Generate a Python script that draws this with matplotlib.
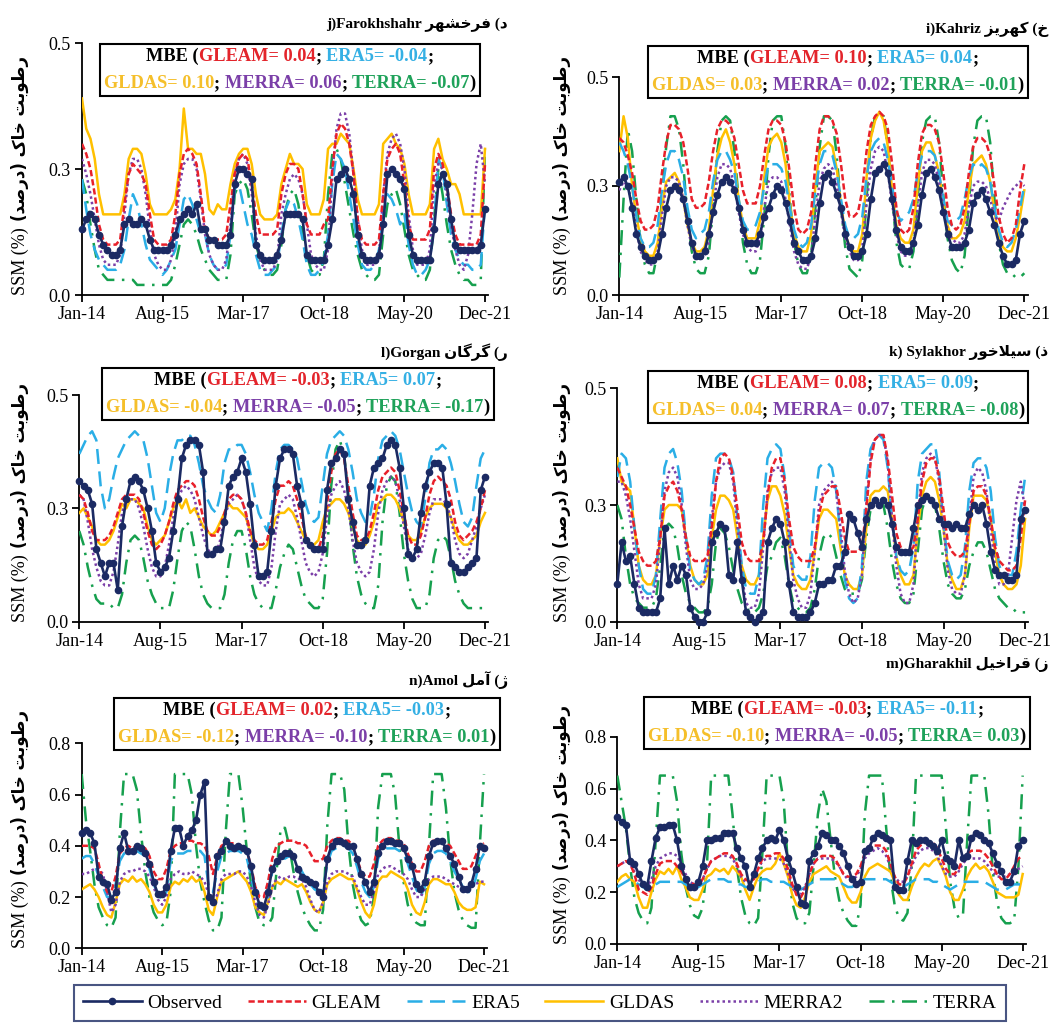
import numpy as np
import matplotlib
matplotlib.use("Agg")
import matplotlib.pyplot as plt
from matplotlib.lines import Line2D
from matplotlib.offsetbox import TextArea, HPacker, VPacker, AnnotationBbox

plt.rcParams['font.family'] = ['Liberation Serif', 'DejaVu Sans']

W, H = 1059, 1027

months = np.arange(96)  # Jan-2014 .. Dec-2021
xtick_pos = [0, 19, 38, 57, 76, 95]
xtick_labels = ['Jan-14', 'Aug-15', 'Mar-17', 'Oct-18', 'May-20', 'Dec-21']

# ---- data: surface soil moisture, hundredths, one value per month ----
# j) Farokhshahr
farokh_obs = [13,15,16,15,12,10,9,8,8,9,14,15, 14,14,15,14,11,9,9,9,9,10,12,15,
              16,17,16,18,13,13,11,11,10,10,10,12, 22,25,25,24,23,10,8,7,7,7,8,11,
              16,16,16,16,15,8,7,7,7,7,10,15, 23,24,25,23,20,12,8,7,7,7,8,14,
              24,25,24,23,21,12,8,7,7,7,7,13, 22,24,22,15,10,9,9,9,9,9,10,17]
farokh_gleam = [30,28,25,20,14,11,10,10,10,11,18,24, 26,25,24,22,16,11,10,10,10,11,16,24,
                28,29,28,26,20,13,11,11,11,11,12,18, 24,27,28,27,22,16,12,12,12,12,13,20,
                24,26,26,25,20,14,12,12,12,14,15,25, 32,34,33,30,24,15,11,10,10,10,11,20,
                27,29,30,28,22,14,11,11,11,11,13,25, 28,26,22,16,12,10,10,10,10,10,12,26]
farokh_era5 = [23,17,12,9,7,6,5,5,5,6,9,15, 20,18,14,10,7,6,5,4,5,7,9,14,
               19,20,18,15,12,12,8,6,5,5,6,12, 21,22,18,14,12,8,5,4,4,5,6,12,
               17,19,18,15,11,6,4,4,5,7,12,22, 28,27,25,20,15,10,6,5,5,6,9,16,
               20,19,17,14,16,10,6,4,4,5,7,14, 27,25,18,12,9,7,6,6,5,5,6,18]
farokh_gldas = [39,33,31,27,20,16,16,16,16,16,20,27, 29,29,28,24,18,16,16,16,16,17,19,25,
                37,29,29,28,28,24,17,16,18,17,17,22, 26,28,29,29,26,20,16,15,15,15,16,22,
                25,28,26,26,25,18,16,16,16,19,29,30, 30,32,31,30,25,19,16,16,16,16,18,30,
                31,32,30,29,26,20,16,16,16,16,18,29, 31,27,25,22,22,20,16,16,16,16,16,29]
farokh_merra = [27,24,20,15,10,7,6,6,6,8,16,24, 27,27,25,20,13,8,6,5,5,7,12,22,
                26,27,27,25,19,12,8,6,5,5,7,14, 24,27,28,26,20,12,7,5,5,5,7,16,
                20,23,24,23,20,14,8,6,5,5,9,24, 33,36,36,32,24,15,9,6,6,6,8,20,
                28,31,32,30,25,16,9,6,6,6,9,22, 26,25,20,14,9,6,5,8,16,26,30,22]
farokh_terra = [23,20,14,9,5,4,3,3,3,3,3,3, 3,2,2,2,2,2,2,2,2,3,6,10,
                14,15,14,12,9,7,5,4,3,3,3,8, 20,22,23,21,16,10,7,5,4,4,5,10,
                17,20,21,18,12,8,5,4,4,7,20,28, 29,27,22,17,12,8,5,4,3,3,4,12,
                18,20,21,18,13,8,5,4,3,3,5,15, 25,20,14,9,6,4,3,3,2,2,3,29]

# i) Kahriz
kahriz_obs = [26,27,25,20,14,11,9,8,8,9,14,20, 24,25,24,22,17,12,9,9,10,14,19,23,
              26,27,26,24,20,15,12,12,12,14,18,20, 23,25,24,21,17,12,10,8,8,9,13,21,
              27,28,26,23,20,14,11,9,9,10,14,22, 28,29,30,28,22,15,11,10,10,12,16,23,
              28,29,27,24,19,14,11,11,11,12,15,21, 23,24,22,19,16,12,9,7,7,8,14,17]
kahriz_gleam = [36,35,32,28,22,17,15,15,16,20,28,35, 39,39,38,35,29,22,20,20,21,26,33,38,
                40,40,39,36,30,24,21,21,21,25,32,38, 40,40,39,35,28,20,15,14,15,19,30,38,
                41,41,40,37,30,22,18,18,19,24,33,39, 41,42,41,38,30,20,15,14,15,20,30,37,
                39,39,38,35,28,20,16,15,16,20,28,34, 36,36,35,32,25,18,14,12,13,16,24,30]
kahriz_era5 = [35,33,30,25,18,13,11,11,12,16,24,30, 33,33,31,27,20,15,13,14,15,19,26,31,
               33,33,31,28,22,17,15,15,16,19,25,30, 30,30,29,26,20,15,12,11,12,16,24,30,
               33,33,32,28,22,16,13,13,14,18,27,33, 35,36,35,31,25,19,17,18,19,22,28,32,
               33,33,32,28,22,17,16,17,18,22,27,30, 29,30,29,26,20,15,12,11,12,15,20,25]
kahriz_gldas = [33,41,36,25,18,13,10,9,9,12,20,26, 27,28,26,22,16,12,10,10,11,15,24,32,
                36,38,35,30,22,16,13,13,13,17,27,34, 36,37,35,30,21,14,11,10,10,14,25,33,
                34,35,34,29,21,14,11,10,10,14,27,36, 40,42,40,34,24,16,13,12,12,15,25,33,
                35,35,32,28,21,16,13,13,14,17,24,30, 31,32,30,26,19,14,11,10,10,13,18,24]
kahriz_merra = [24,26,25,21,15,10,8,7,7,10,18,25, 27,27,26,22,16,11,9,8,9,12,20,27,
                30,30,29,25,19,14,11,10,10,13,20,26, 27,27,26,22,16,10,7,6,6,9,18,26,
                29,30,29,25,19,13,10,8,8,11,21,29, 33,34,33,28,21,14,10,9,9,12,20,28,
                31,31,30,26,20,15,13,12,12,14,20,25, 26,26,25,22,18,17,20,22,24,25,26,25]
kahriz_terra = [4,22,38,33,22,12,7,5,5,10,22,34, 41,41,38,30,18,10,6,5,5,9,20,33,
                40,41,40,33,22,12,7,5,5,8,18,32, 40,41,41,34,22,12,7,5,5,9,20,34,
                41,41,40,32,20,11,6,5,4,8,22,36, 41,41,41,34,22,12,7,6,6,10,22,35,
                40,41,41,35,23,13,8,6,5,9,21,34, 40,41,41,35,22,12,7,5,5,4,4,5]

# l) Gorgan
gorgan_obs = [31,30,29,26,16,13,10,13,13,7,21,27, 31,32,31,29,25,20,13,11,12,14,20,27,
              36,39,40,40,39,33,15,15,16,16,22,30, 32,33,36,33,26,17,10,10,11,20,30,36,
              38,38,37,30,26,18,17,16,16,16,29,35, 36,38,37,27,22,17,17,18,30,34,35,36,
              39,40,39,34,25,15,14,16,24,30,33,35, 35,34,26,13,12,11,11,12,13,14,29,32]
gorgan_gleam = [28,27,24,20,18,18,18,19,21,24,27,28, 28,28,27,24,20,17,16,17,19,22,26,29,
                30,31,31,30,27,23,20,19,19,21,24,27, 28,28,27,24,20,18,17,17,18,22,27,30,
                30,31,30,27,23,19,17,16,16,19,26,33, 37,38,36,30,24,19,18,18,20,24,29,32,
                33,34,33,29,24,19,17,17,19,23,28,31, 32,31,30,27,22,19,18,19,20,22,25,29]
gorgan_era5 = [37,39,41,42,40,30,25,27,32,36,38,40, 41,42,41,40,36,30,24,22,25,32,37,40,
               40,41,41,39,35,30,27,25,24,28,35,38, 38,39,39,37,33,28,24,22,20,25,33,38,
               39,39,38,36,31,26,23,22,23,30,37,40, 41,42,41,38,33,27,24,22,23,28,36,40,
               41,42,41,38,33,28,24,22,21,27,35,38, 38,39,38,35,31,26,22,21,23,30,36,38]
gorgan_gldas = [24,25,23,21,18,17,17,18,20,23,26,25, 27,27,26,25,21,18,17,18,19,22,25,27,
                25,27,24,25,23,21,20,19,20,22,24,26, 25,25,24,23,20,17,16,16,17,20,23,24,
                24,25,24,22,20,18,17,17,18,22,25,26, 27,27,26,24,21,18,17,17,19,22,26,27,
                28,28,27,25,22,19,18,18,20,23,25,26, 26,26,25,23,20,18,17,17,18,19,22,24]
gorgan_merra = [28,27,22,16,12,9,8,8,11,17,24,27, 27,27,25,21,16,12,10,10,12,17,23,27,
                29,30,29,27,23,19,16,15,15,18,23,26, 27,28,27,24,18,12,9,8,8,12,20,26,
                27,28,27,23,18,13,11,10,11,15,23,28, 30,31,29,25,18,13,11,10,11,16,24,29,
                31,32,31,27,21,16,14,14,15,19,24,27, 27,27,26,23,18,15,14,15,18,21,25,28]
gorgan_terra = [20,17,12,8,5,4,4,4,3,3,6,13, 18,19,18,14,9,6,4,3,3,3,7,14,
                20,22,21,16,10,6,4,3,3,3,6,13, 18,20,20,16,10,6,4,3,3,3,7,12,
                15,17,16,12,8,5,4,3,3,5,15,30, 38,40,37,28,17,10,6,4,3,3,8,22,
                30,32,31,24,15,9,5,3,3,3,6,14, 18,19,18,14,9,6,4,3,3,3,3,3]

# k) Sylakhor
sylakhor_obs = [8,17,13,14,8,3,2,2,2,2,5,20, 8,12,9,12,10,3,1,0,0,2,17,19,
                21,20,10,9,17,9,2,1,0,1,2,17, 20,22,21,17,8,2,1,1,1,2,4,8,
                8,9,9,12,12,15,23,22,19,16,22,25, 26,25,26,25,21,16,15,15,15,20,25,26,
                27,26,25,22,21,21,20,21,20,20,23,25, 24,25,21,15,11,10,10,9,9,10,22,24]
sylakhor_gleam = [33,31,29,25,20,15,13,12,12,13,18,27, 29,30,28,24,18,14,13,13,13,14,20,30,
                  35,36,35,31,24,17,14,13,13,13,17,27, 33,35,35,30,22,16,14,13,13,13,16,23,
                  27,28,29,29,24,18,15,15,15,16,24,34, 39,40,40,35,27,19,16,15,15,16,22,30,
                  34,35,35,31,24,17,15,14,14,15,21,28, 29,29,27,22,16,13,12,11,11,12,18,26]
sylakhor_era5 = [31,36,35,30,20,12,7,6,6,10,22,33, 36,37,34,28,18,11,9,8,9,14,27,35,
                 36,36,35,32,22,12,7,6,6,10,25,35, 37,38,37,31,20,12,10,9,9,14,26,33,
                 34,34,33,28,18,9,5,4,5,12,30,37, 39,40,39,33,22,14,11,10,11,16,30,36,
                 37,38,38,32,21,13,10,9,10,16,28,34, 35,35,33,28,18,12,10,10,10,15,24,31]
sylakhor_gldas = [35,30,29,28,20,12,9,8,8,10,18,24, 25,25,25,24,18,12,9,8,8,10,18,24,
                  27,27,26,24,18,12,9,8,8,10,18,26, 29,29,27,23,16,10,8,7,7,9,15,22,
                  24,24,23,22,16,10,8,7,7,10,20,27, 28,28,29,28,22,14,10,8,8,10,20,27,
                  30,31,30,26,20,12,9,7,7,10,20,27, 27,27,26,22,15,10,8,7,7,8,12,22]
sylakhor_merra = [30,30,27,22,15,8,5,5,5,8,18,28, 32,33,31,25,16,9,7,7,8,12,22,30,
                  33,34,34,30,20,10,4,3,3,6,16,28, 32,33,33,28,18,9,5,3,3,6,15,25,
                  28,29,30,28,20,11,6,4,5,10,25,35, 39,40,40,34,22,12,6,4,4,8,22,32,
                  35,36,35,30,20,11,7,6,6,10,22,31, 33,32,28,20,12,8,8,10,18,26,30,24]
sylakhor_terra = [25,22,14,8,5,4,3,3,3,5,12,20, 21,20,16,10,6,4,3,2,2,3,8,17,
                  20,19,16,11,7,4,3,2,2,3,6,12, 14,17,18,14,8,4,3,2,2,3,7,14,
                  18,19,18,14,10,7,6,6,6,9,18,24, 26,26,25,20,13,8,5,4,4,6,15,24,
                  27,27,25,20,13,8,6,5,5,7,12,15, 17,17,15,11,7,5,4,3,3,2,2,2]

# n) Amol
amol_obs = [45,46,45,41,28,26,25,19,22,39,45,38, 38,40,39,37,33,26,21,21,24,38,47,47,
            40,44,46,50,60,65,20,18,36,38,42,40, 39,40,39,38,32,22,17,16,22,31,34,36,
            37,37,36,31,28,27,26,25,22,20,35,40, 42,42,41,40,40,35,29,26,22,26,37,40,
            42,42,41,41,39,35,32,25,23,26,36,41, 42,42,39,36,33,28,23,23,25,31,40,39]
amol_gleam = [40,40,40,39,33,26,22,22,28,37,39,40, 39,40,40,39,36,30,27,27,31,38,40,41,
              41,42,42,41,41,40,36,29,36,40,41,41, 41,40,40,38,32,24,20,20,26,35,40,41,
              42,42,42,41,41,40,37,34,34,35,40,42, 43,43,42,42,40,35,30,28,28,33,40,42,
              43,43,42,42,41,37,33,30,30,34,40,42, 42,42,41,40,37,34,31,31,32,36,40,41]
amol_era5 = [35,36,36,33,28,24,20,20,25,34,37,37, 37,38,37,36,31,25,21,19,22,34,37,37,
             37,38,38,38,38,36,24,22,30,36,37,38, 38,38,37,35,28,20,16,15,20,30,34,35,
             35,36,35,33,30,27,25,23,22,23,33,38, 39,40,40,39,37,32,26,22,20,24,35,38,
             39,39,39,38,37,33,28,23,20,24,33,37, 38,38,37,34,30,27,24,22,22,27,34,37]
amol_gldas = [23,24,25,23,20,16,13,12,18,25,27,26, 28,26,27,25,22,17,14,14,17,24,26,25,
              27,26,28,26,27,22,15,13,20,26,27,28, 29,30,28,26,22,16,14,13,18,24,26,25,
              27,26,25,24,25,22,18,15,14,18,25,27, 28,29,28,27,27,23,18,14,12,17,26,28,
              28,30,29,28,27,23,17,14,13,18,25,27, 27,26,25,25,22,18,16,15,15,16,26,25]
amol_merra = [29,29,30,31,31,29,22,14,17,26,29,30, 30,31,31,30,28,24,19,17,20,27,29,30,
              29,29,30,29,28,26,21,17,21,27,29,29, 29,30,30,28,24,18,13,12,17,24,27,28,
              27,28,28,27,27,24,19,15,14,18,26,29, 30,30,30,29,28,24,20,17,17,22,29,31,
              32,32,31,30,29,27,23,20,20,23,27,28, 28,28,27,26,25,24,23,23,24,25,26,26]
amol_terra = [68,50,38,25,16,12,9,8,12,45,68,68, 68,62,45,30,20,14,11,9,10,22,68,68,
              68,68,60,40,26,18,11,7,7,12,45,68, 68,68,55,38,25,16,10,9,9,12,30,47,
              47,40,30,22,16,12,9,7,7,15,48,68, 68,68,62,40,25,16,11,9,10,20,55,68,
              68,68,60,40,26,17,12,10,9,9,40,68, 68,68,55,35,22,15,11,9,8,8,40,68]

# m) Gharakhil
gharakhil_obs = [49,47,46,32,31,27,23,22,32,41,45,45, 46,46,40,30,25,22,22,24,30,40,40,41,
                 41,43,43,43,37,33,30,22,27,33,37,40, 41,40,44,40,33,28,22,16,15,32,35,38,
                 43,42,40,40,38,35,30,25,23,24,36,37, 41,43,42,41,40,22,21,21,32,40,39,40,
                 40,39,38,36,40,33,32,30,40,33,34,41, 43,42,40,39,35,31,28,24,24,28,38,40]
gharakhil_gleam = [30,31,32,31,27,21,20,19,22,27,31,32, 32,32,30,28,25,24,23,23,25,29,32,33,
                   34,35,35,34,31,27,25,24,25,29,33,34, 34,35,35,33,29,23,19,18,21,27,31,33,
                   34,34,34,33,30,27,26,26,27,30,35,37, 38,38,38,36,31,26,23,23,26,31,36,38,
                   39,39,39,37,33,29,27,27,29,33,35,36, 36,36,35,33,30,27,25,25,27,30,33,34]
gharakhil_era5 = [22,23,24,25,24,23,22,21,22,23,24,24, 24,24,24,24,23,22,21,22,23,24,25,25,
                  25,25,24,24,23,23,22,22,23,24,25,25, 24,24,24,24,23,22,21,21,22,23,24,25,
                  25,25,25,25,24,23,22,22,23,24,25,25, 25,25,25,25,24,23,22,22,23,24,25,25,
                  25,25,24,24,23,22,21,22,23,24,24,24, 24,24,24,23,22,21,21,21,22,23,23,23]
gharakhil_gldas = [24,26,27,25,24,18,14,14,20,25,28,27, 29,27,30,25,22,18,17,17,21,26,27,29,
                   28,29,27,30,28,26,21,17,22,26,28,29, 29,31,35,31,26,19,15,14,18,24,27,28,
                   29,30,28,27,26,22,18,16,16,20,26,29, 30,31,30,29,28,24,19,17,17,22,26,29,
                   31,30,32,33,30,26,20,17,17,21,26,29, 31,29,30,28,24,20,19,18,18,18,19,27]
gharakhil_merra = [30,31,32,31,28,25,22,22,25,30,33,34, 35,35,34,31,27,24,23,23,25,29,32,33,
                   34,34,34,33,30,26,24,24,26,29,32,33, 33,33,33,31,27,22,19,19,22,27,31,33,
                   33,33,33,32,30,27,25,25,26,29,33,35, 36,37,36,34,30,26,24,24,26,30,34,36,
                   37,37,36,34,30,27,26,26,28,31,33,33, 33,33,32,30,28,26,26,26,27,28,29,30]
gharakhil_terra = [65,55,45,30,18,12,9,8,14,40,65,65, 65,65,55,35,22,15,11,10,14,30,65,65,
                   65,65,65,50,30,18,11,8,7,10,35,65, 65,65,65,55,30,16,10,8,8,12,30,50,
                   60,55,40,26,17,12,9,7,7,15,50,65, 65,65,65,45,26,15,10,9,12,30,65,65,
                   65,65,65,65,65,45,24,14,10,11,40,65, 65,65,65,50,28,16,10,8,8,9,30,65]

# panel titles and MBE values
titles_en = ['j)Farokhshahr', 'i)Kahriz', 'l)Gorgan', 'k) Sylakhor', 'n)Amol', 'm)Gharakhil']
titles_fa = ['د) فرخشهر', 'خ) کهریز', 'ر) گرگان', 'ذ) سیلاخور', 'ژ) آمل', 'ز) قراخیل']
mbe_gleam = [0.04, 0.10, -0.03, 0.08, 0.02, -0.03]
mbe_era5 = [-0.04, 0.04, 0.07, 0.09, -0.03, -0.11]
mbe_gldas = [0.10, 0.03, -0.04, 0.04, -0.12, -0.10]
mbe_merra = [0.06, 0.02, -0.05, 0.07, -0.10, -0.05]
mbe_terra = [-0.07, -0.01, -0.17, -0.08, 0.01, 0.03]

yticks_a = [0, 0.25, 0.5]
ylabels_a = ['0.0', '0.3', '0.5']
yticks_b = [0, 0.2, 0.4, 0.6, 0.8]
ylabels_b = ['0.0', '0.2', '0.4', '0.6', '0.8']

series_names = ['Observed', 'GLEAM', 'ERA5', 'GLDAS', 'MERRA2', 'TERRA']
ylabel_fa = 'رطوبت خاک (درصد)'

station_data = [
    [farokh_obs, farokh_gleam, farokh_era5, farokh_gldas, farokh_merra, farokh_terra],
    [kahriz_obs, kahriz_gleam, kahriz_era5, kahriz_gldas, kahriz_merra, kahriz_terra],
    [gorgan_obs, gorgan_gleam, gorgan_era5, gorgan_gldas, gorgan_merra, gorgan_terra],
    [sylakhor_obs, sylakhor_gleam, sylakhor_era5, sylakhor_gldas, sylakhor_merra, sylakhor_terra],
    [amol_obs, amol_gleam, amol_era5, amol_gldas, amol_merra, amol_terra],
    [gharakhil_obs, gharakhil_gleam, gharakhil_era5, gharakhil_gldas, gharakhil_merra, gharakhil_terra],
]

# ---- simple persian shaping (matplotlib has no bidi / joining) ----
FORMS = {  # isolated, final, initial, medial
    'ا': ('\ufe8d', '\ufe8e', None, None),
    'آ': ('\ufe81', '\ufe82', None, None),
    'ب': ('\ufe8f', '\ufe90', '\ufe91', '\ufe92'),
    'ت': ('\ufe95', '\ufe96', '\ufe97', '\ufe98'),
    'خ': ('\ufea5', '\ufea6', '\ufea7', '\ufea8'),
    'د': ('\ufea9', '\ufeaa', None, None),
    'ذ': ('\ufeab', '\ufeac', None, None),
    'ر': ('\ufead', '\ufeae', None, None),
    'ز': ('\ufeaf', '\ufeb0', None, None),
    'ژ': ('\ufb8a', '\ufb8b', None, None),
    'س': ('\ufeb1', '\ufeb2', '\ufeb3', '\ufeb4'),
    'ش': ('\ufeb5', '\ufeb6', '\ufeb7', '\ufeb8'),
    'ص': ('\ufeb9', '\ufeba', '\ufebb', '\ufebc'),
    'ط': ('\ufec1', '\ufec2', '\ufec3', '\ufec4'),
    'ف': ('\ufed1', '\ufed2', '\ufed3', '\ufed4'),
    'ق': ('\ufed5', '\ufed6', '\ufed7', '\ufed8'),
    'ک': ('\ufb8e', '\ufb8f', '\ufb90', '\ufb91'),
    'گ': ('\ufb92', '\ufb93', '\ufb94', '\ufb95'),
    'ل': ('\ufedd', '\ufede', '\ufedf', '\ufee0'),
    'م': ('\ufee1', '\ufee2', '\ufee3', '\ufee4'),
    'ن': ('\ufee5', '\ufee6', '\ufee7', '\ufee8'),
    'و': ('\ufeed', '\ufeee', None, None),
    'ه': ('\ufee9', '\ufeea', '\ufeeb', '\ufeec'),
    'ی': ('\ufbfc', '\ufbfd', '\ufbfe', '\ufbff'),
    'لا': ('\ufefb', '\ufefc', None, None),
}


def rtl(s):
    toks = []
    i = 0
    while i < len(s):
        if s[i:i + 2] == 'لا':
            toks.append('لا')
            i += 2
        else:
            toks.append(s[i])
            i += 1
    out = []
    for k, t in enumerate(toks):
        if t not in FORMS:
            out.append(t)
            continue
        prev = k > 0 and toks[k - 1] in FORMS and FORMS[toks[k - 1]][2] is not None
        nxt = (FORMS[t][2] is not None and k < len(toks) - 1 and toks[k + 1] in FORMS)
        f = FORMS[t]
        if prev and nxt:
            out.append(f[3])
        elif prev:
            out.append(f[1])
        elif nxt:
            out.append(f[2])
        else:
            out.append(f[0])
    vis = ''.join(reversed(out))
    return vis.translate(str.maketrans('()', ')('))


# ---- styles ----
colors = ['#1b2a63', '#e8202a', '#2aaee6', '#ffc000', '#7b3fa8', '#16a04e']
text_colors = ['black', '#e3242b', '#35b0e4', '#f5bf2a', '#7b3fa8', '#1fa25a']
styles = ['-', (0, (2.5, 1.2)), (0, (6, 3)), '-', (0, (1, 1.2)), (0, (6, 3, 1, 3))]
zorders = [10, 8, 6, 5, 7, 4]

# axes boxes in pixels: left, top, width, height
panel_px = [(82, 43, 406.4, 252), (619.3, 77, 408.4, 218),
            (79.3, 395, 409.1, 226.7), (617.3, 388.3, 411.2, 233.4),
            (81.7, 743.3, 405.7, 205), (617.3, 736.7, 408.8, 207.3)]
title_px = [(508, 25), (1048, 29), (508, 352), (1048, 352), (508, 680), (1048, 665)]
box_px = [(290, 70), (838, 72), (298, 394), (838, 397), (307, 724), (837, 723)]
ylab_x = [20, 562, 20, 562, 20, 562]

fig = plt.figure(figsize=(W / 100, H / 100), dpi=100)
axes = []
for p in range(6):
    x0, top, w, h = panel_px[p]
    ax = fig.add_axes([x0 / W, 1 - (top + h) / H, w / W, h / H])
    axes.append(ax)
    data = station_data[p]
    for s in range(6):
        vals = np.array(data[s]) / 100
        if s == 0:
            ax.plot(months, vals, color=colors[s], lw=1.9, marker='o', ms=4.5,
                    zorder=zorders[s], clip_on=False)
        else:
            ax.plot(months, vals, color=colors[s], lw=1.8, linestyle=styles[s],
                    zorder=zorders[s])
    ax.set_xlim(0, 95.8)
    if p < 4:
        ax.set_ylim(0, 0.5)
        ax.set_yticks(yticks_a)
        ax.set_yticklabels(ylabels_a)
    else:
        ax.set_ylim(0, 0.8)
        ax.set_yticks(yticks_b)
        ax.set_yticklabels(ylabels_b)
    ax.set_xticks(xtick_pos)
    ax.set_xticklabels(xtick_labels)
    ax.spines['top'].set_visible(False)
    ax.spines['right'].set_visible(False)
    for sp in ['left', 'bottom']:
        ax.spines[sp].set_linewidth(1.3)
    ax.tick_params(direction='out', length=5, width=1.3, labelsize=13, pad=3)

    # title
    tx, ty = title_px[p]
    fig.text(tx / W, 1 - ty / H, titles_en[p] + ' ' + rtl(titles_fa[p]),
             ha='right', va='center', fontsize=11, fontweight='bold')

    # MBE box
    tp = dict(fontsize=13.2, fontweight='bold', family='Liberation Serif')
    def ta(t, c):
        return TextArea(t, textprops=dict(color=c, **tp))
    line1 = HPacker(children=[ta('MBE (', 'black'),
                              ta(f'GLEAM= {mbe_gleam[p]:.2f}', text_colors[1]),
                              ta('; ', 'black'),
                              ta(f'ERA5= {mbe_era5[p]:.2f}', text_colors[2]),
                              ta(';', 'black')], align='baseline', pad=0, sep=0)
    line2 = HPacker(children=[ta(f'GLDAS= {mbe_gldas[p]:.2f}', text_colors[3]),
                              ta('; ', 'black'),
                              ta(f'MERRA= {mbe_merra[p]:.2f}', text_colors[4]),
                              ta('; ', 'black'),
                              ta(f'TERRA= {mbe_terra[p]:.2f}', text_colors[5]),
                              ta(')', 'black')], align='baseline', pad=0, sep=0)
    pack = VPacker(children=[line1, line2], align='center', pad=0, sep=7)
    bx, by = box_px[p]
    ab = AnnotationBbox(pack, (bx / W, 1 - by / H), xycoords='figure fraction',
                        box_alignment=(0.5, 0.5), frameon=True, pad=0.45,
                        bboxprops=dict(edgecolor='black', linewidth=1.5,
                                       boxstyle='square', facecolor='white'))
    ab.set_zorder(20)
    fig.add_artist(ab)

# y labels: "SSM (%)" regular, persian part bold, stacked along the axis
renderer = fig.canvas.get_renderer()
for p, ax in enumerate(axes):
    pos = ax.get_position()
    t1 = fig.text(ylab_x[p] / W, pos.y0, 'SSM (%)', rotation=90, ha='center',
                  va='bottom', fontsize=13)
    bb = t1.get_window_extent(renderer)
    fig.text(ylab_x[p] / W, (bb.y1 + 6) / H, rtl(ylabel_fa), rotation=90,
             ha='center', va='bottom', fontsize=12, fontweight='bold',
             family=['DejaVu Sans'])

# legend
handles = []
for s in range(6):
    if s == 0:
        handles.append(Line2D([], [], color=colors[s], lw=1.9, marker='o', ms=4.5))
    else:
        handles.append(Line2D([], [], color=colors[s], lw=1.8, linestyle=styles[s]))
leg = fig.legend(handles, series_names, loc='center', ncol=6,
                 bbox_to_anchor=(540 / W, 1 - 1003 / H), frameon=True,
                 fancybox=False, edgecolor='#1b2a63', handlelength=3.0,
                 handletextpad=0.3, columnspacing=1.3, borderpad=0.45,
                 prop=dict(family='Liberation Serif', size=14))
leg.get_frame().set_linewidth(1.5)

fig.savefig('out.png', dpi=100)
